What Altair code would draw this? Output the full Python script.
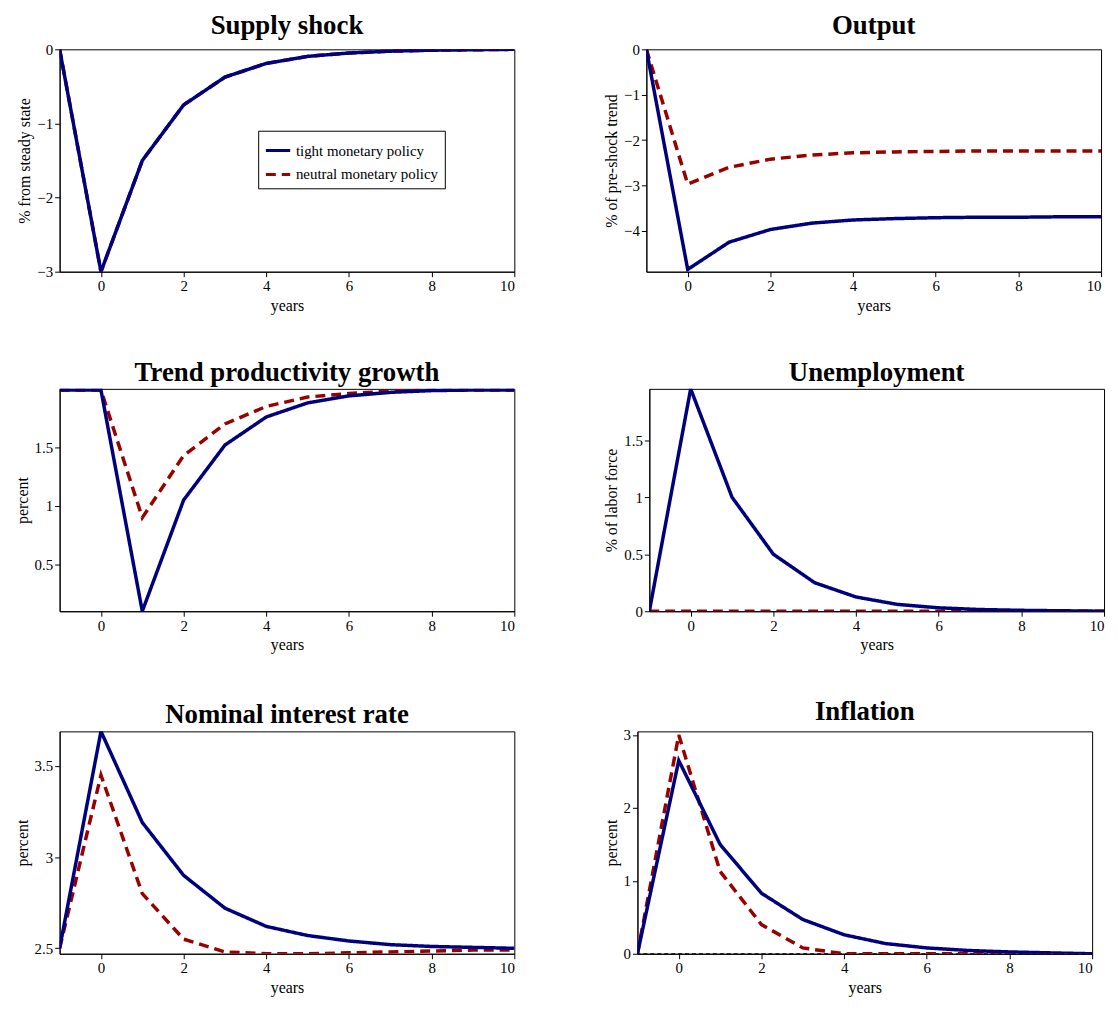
import altair as alt
import pandas as pd

years = list(range(-1, 11))

supply_tight = [0, -3, -1.5, -0.75, -0.375, -0.19, -0.095, -0.05, -0.025, -0.012, -0.006, 0]
supply_neutral = [0, -3, -1.5, -0.75, -0.375, -0.19, -0.095, -0.05, -0.025, -0.012, -0.006, 0]
output_tight = [0, -4.85, -4.25, -3.97, -3.83, -3.76, -3.73, -3.71, -3.70, -3.70, -3.69, -3.69]
output_neutral = [0, -2.97, -2.6, -2.42, -2.33, -2.28, -2.26, -2.25, -2.24, -2.24, -2.24, -2.24]
trend_tight = [1.99, 1.99, 0.1, 1.05, 1.52, 1.76, 1.88, 1.94, 1.97, 1.985, 1.99, 1.99]
trend_neutral = [1.99, 1.99, 0.9, 1.43, 1.7, 1.85, 1.93, 1.96, 1.98, 1.99, 1.99, 1.99]
unemp_tight = [0, 1.95, 1.0, 0.5, 0.25, 0.125, 0.06, 0.03, 0.015, 0.008, 0.004, 0]
unemp_neutral = [0] * 12
rate_tight = [2.5, 3.69, 3.19, 2.9, 2.72, 2.62, 2.57, 2.54, 2.52, 2.51, 2.505, 2.5]
rate_neutral = [2.5, 3.45, 2.8, 2.55, 2.48, 2.47, 2.47, 2.475, 2.48, 2.485, 2.49, 2.49]
infl_tight = [0, 2.65, 1.5, 0.83, 0.47, 0.26, 0.14, 0.08, 0.045, 0.025, 0.012, 0]
infl_neutral = [0, 3.0, 1.13, 0.4, 0.08, 0, 0, 0, 0, 0, 0, 0]

TIGHT = "tight monetary policy"
NEUTRAL = "neutral monetary policy"
FONT = "Liberation Serif"


def panel(title, ytitle, tight, neutral, ydomain, yticks, fmt, show_legend=False, zero_line=False):
    if show_legend:
        leg = alt.Legend(title=None, orient="none", legendX=200, legendY=82,
                         strokeColor="black", padding=6, symbolStrokeWidth=3,
                         symbolSize=600, labelFontSize=15, labelFont=FONT,
                         fillColor="white", rowPadding=2)
    else:
        leg = None
    x = alt.X("year:Q", title="years", scale=alt.Scale(domain=[-1, 10], nice=False),
              axis=alt.Axis(values=[0, 2, 4, 6, 8, 10], grid=False))
    y = alt.Y("value:Q", title=ytitle, scale=alt.Scale(domain=ydomain, nice=False, zero=False),
              axis=alt.Axis(values=yticks, grid=False, format=fmt))
    color = alt.Color("policy:N", scale=alt.Scale(domain=[TIGHT, NEUTRAL], range=["#00007f", "#990000"]),
                      legend=leg)
    dash = alt.StrokeDash("policy:N", scale=alt.Scale(domain=[TIGHT, NEUTRAL], range=[[1, 0], [10, 6]]),
                          legend=leg)
    layers = []
    if zero_line:
        zdf = pd.DataFrame({"y": [0]})
        layers.append(alt.Chart(zdf).mark_rule(color="black", strokeDash=[4, 3], strokeWidth=1).encode(y="y:Q"))
    for name, vals in [(NEUTRAL, neutral), (TIGHT, tight)]:
        df = pd.DataFrame({"year": years, "value": vals, "policy": [name] * 12})
        layers.append(alt.Chart(df).mark_line(strokeWidth=3.5, clip=True).encode(
            x=x, y=y, color=color, strokeDash=dash))
    return alt.layer(*layers).properties(
        width=458, height=224,
        title=alt.Title(title, fontSize=27, font=FONT, fontWeight="bold", offset=2),
    )


c1 = panel("Supply shock", "% from steady state", supply_tight, supply_neutral, [-3, 0], [-3, -2, -1, 0], "d", show_legend=True)
c2 = panel("Output", "% of pre-shock trend", output_tight, output_neutral, [-4.9, 0], [-4, -3, -2, -1, 0], "d")
c3 = panel("Trend productivity growth", "percent", trend_tight, trend_neutral, [0.1, 2.0], [0.5, 1, 1.5], "")
c4 = panel("Unemployment", "% of labor force", unemp_tight, unemp_neutral, [0, 1.95], [0, 0.5, 1, 1.5], "")
c5 = panel("Nominal interest rate", "percent", rate_tight, rate_neutral, [2.47, 3.69], [2.5, 3, 3.5], "")
c6 = panel("Inflation", "percent", infl_tight, infl_neutral, [0, 3.05], [0, 1, 2, 3], "d", zero_line=True)

chart = alt.vconcat(
    alt.hconcat(c1, c2, spacing=88),
    alt.hconcat(c3, c4, spacing=88),
    alt.hconcat(c5, c6, spacing=88),
    spacing=44,
).resolve_legend(color="independent", strokeDash="independent").configure_view(
    stroke="black", strokeWidth=1
).configure_axis(
    labelFont=FONT, titleFont=FONT, labelFontSize=15, titleFontSize=16,
    titleFontWeight="normal", grid=False, domainColor="black", tickColor="black",
    labelColor="black", titleColor="black", tickSize=5,
).properties(padding={"left": 5, "top": 0, "right": 5, "bottom": 5})

chart.save("out.html", embed_options={"renderer": "svg", "actions": False})
